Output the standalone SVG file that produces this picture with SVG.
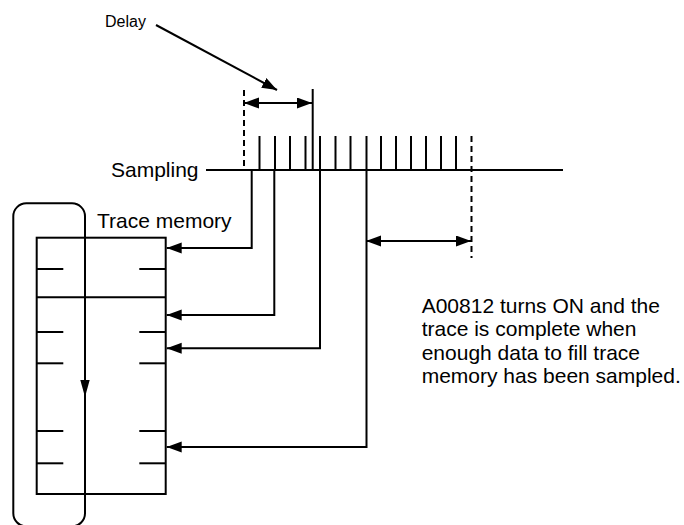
<svg xmlns="http://www.w3.org/2000/svg" width="684" height="525" viewBox="0 0 684 525">
<style>
.ln{fill:none;stroke:#000;stroke-width:2}
.dash{fill:none;stroke:#000;stroke-width:2;stroke-dasharray:6 4}
.tk{stroke:#000;stroke-width:2}
.t{font-family:"Liberation Sans",Arial,sans-serif;fill:#000}
</style>
<defs>
<marker id="ah" markerUnits="userSpaceOnUse" markerWidth="16" markerHeight="12" refX="15" refY="5.5" orient="auto-start-reverse">
<path d="M0,0 L15,5.5 L0,11 z" fill="#000"/>
</marker>
</defs>
<rect width="684" height="525" fill="#fff"/>

<g id="delay">
<text class="t" x="105" y="27" font-size="16">Delay</text>
<line class="ln" x1="156" y1="25" x2="277" y2="90" marker-end="url(#ah)"/>
<line class="dash" x1="244" y1="90" x2="244" y2="170"/>
<line class="tk" x1="312.7" y1="89" x2="312.7" y2="170"/>
<line class="ln" x1="244" y1="103" x2="312" y2="103" marker-start="url(#ah)" marker-end="url(#ah)"/>
</g>

<g id="sampling">
<text class="t" x="111" y="177" font-size="21">Sampling</text>
<line class="ln" x1="206" y1="170" x2="563" y2="170"/>
<g class="tk">
<line x1="259.5" y1="136" x2="259.5" y2="170"/>
<line x1="275" y1="136" x2="275" y2="170"/>
<line x1="290" y1="136" x2="290" y2="170"/>
<line x1="305.5" y1="136" x2="305.5" y2="170"/>
<line x1="320" y1="136" x2="320" y2="170"/>
<line x1="335.5" y1="136" x2="335.5" y2="170"/>
<line x1="350.5" y1="136" x2="350.5" y2="170"/>
<line x1="366.5" y1="136" x2="366.5" y2="170"/>
<line x1="381" y1="136" x2="381" y2="170"/>
<line x1="396" y1="136" x2="396" y2="170"/>
<line x1="411" y1="136" x2="411" y2="170"/>
<line x1="426" y1="136" x2="426" y2="170"/>
<line x1="441" y1="136" x2="441" y2="170"/>
<line x1="456" y1="136" x2="456" y2="170"/>
</g>
<line class="dash" x1="471.5" y1="136" x2="471.5" y2="258"/>
<line class="ln" x1="366" y1="241" x2="471" y2="241" marker-start="url(#ah)" marker-end="url(#ah)"/>
</g>

<g id="trace-memory">
<text class="t" x="97" y="228" font-size="21">Trace memory</text>
<rect class="ln" x="36.7" y="237.7" width="129" height="256.3"/>
<line class="ln" x1="36.7" y1="297.3" x2="165.7" y2="297.3"/>
<g class="tk">
<line x1="36.7" y1="269" x2="63.3" y2="269"/><line x1="139.3" y1="269" x2="165.7" y2="269"/>
<line x1="36.7" y1="332" x2="63.3" y2="332"/><line x1="139.3" y1="332" x2="165.7" y2="332"/>
<line x1="36.7" y1="363.3" x2="63.3" y2="363.3"/><line x1="139.3" y1="363.3" x2="165.7" y2="363.3"/>
<line x1="36.7" y1="431" x2="63.3" y2="431"/><line x1="139.3" y1="431" x2="165.7" y2="431"/>
<line x1="36.7" y1="463.3" x2="63.3" y2="463.3"/><line x1="139.3" y1="463.3" x2="165.7" y2="463.3"/>
</g>
</g>

<g id="loop">
<rect class="ln" x="13.3" y="203.3" width="71.7" height="323" rx="13" ry="13"/>
<polygon points="80.3,380 89.7,380 85,397" fill="#000"/>
</g>

<g id="note">
<text class="t" font-size="21">
<tspan x="421.7" y="313">A00812 turns ON and the</tspan>
<tspan x="421.7" y="336.3">trace is complete when</tspan>
<tspan x="421.7" y="359.7">enough data to fill trace</tspan>
<tspan x="421.7" y="383">memory has been sampled.</tspan>
</text>
</g>

<g id="connectors">
<path class="ln" d="M251.7,170 V248 H166.7" marker-end="url(#ah)"/>
<path class="ln" d="M274.3,170 V315 H166.7" marker-end="url(#ah)"/>
<path class="ln" d="M320,170 V348.3 H166.7" marker-end="url(#ah)"/>
<path class="ln" d="M366.5,170 V447 H166.7" marker-end="url(#ah)"/>
</g>
</svg>
